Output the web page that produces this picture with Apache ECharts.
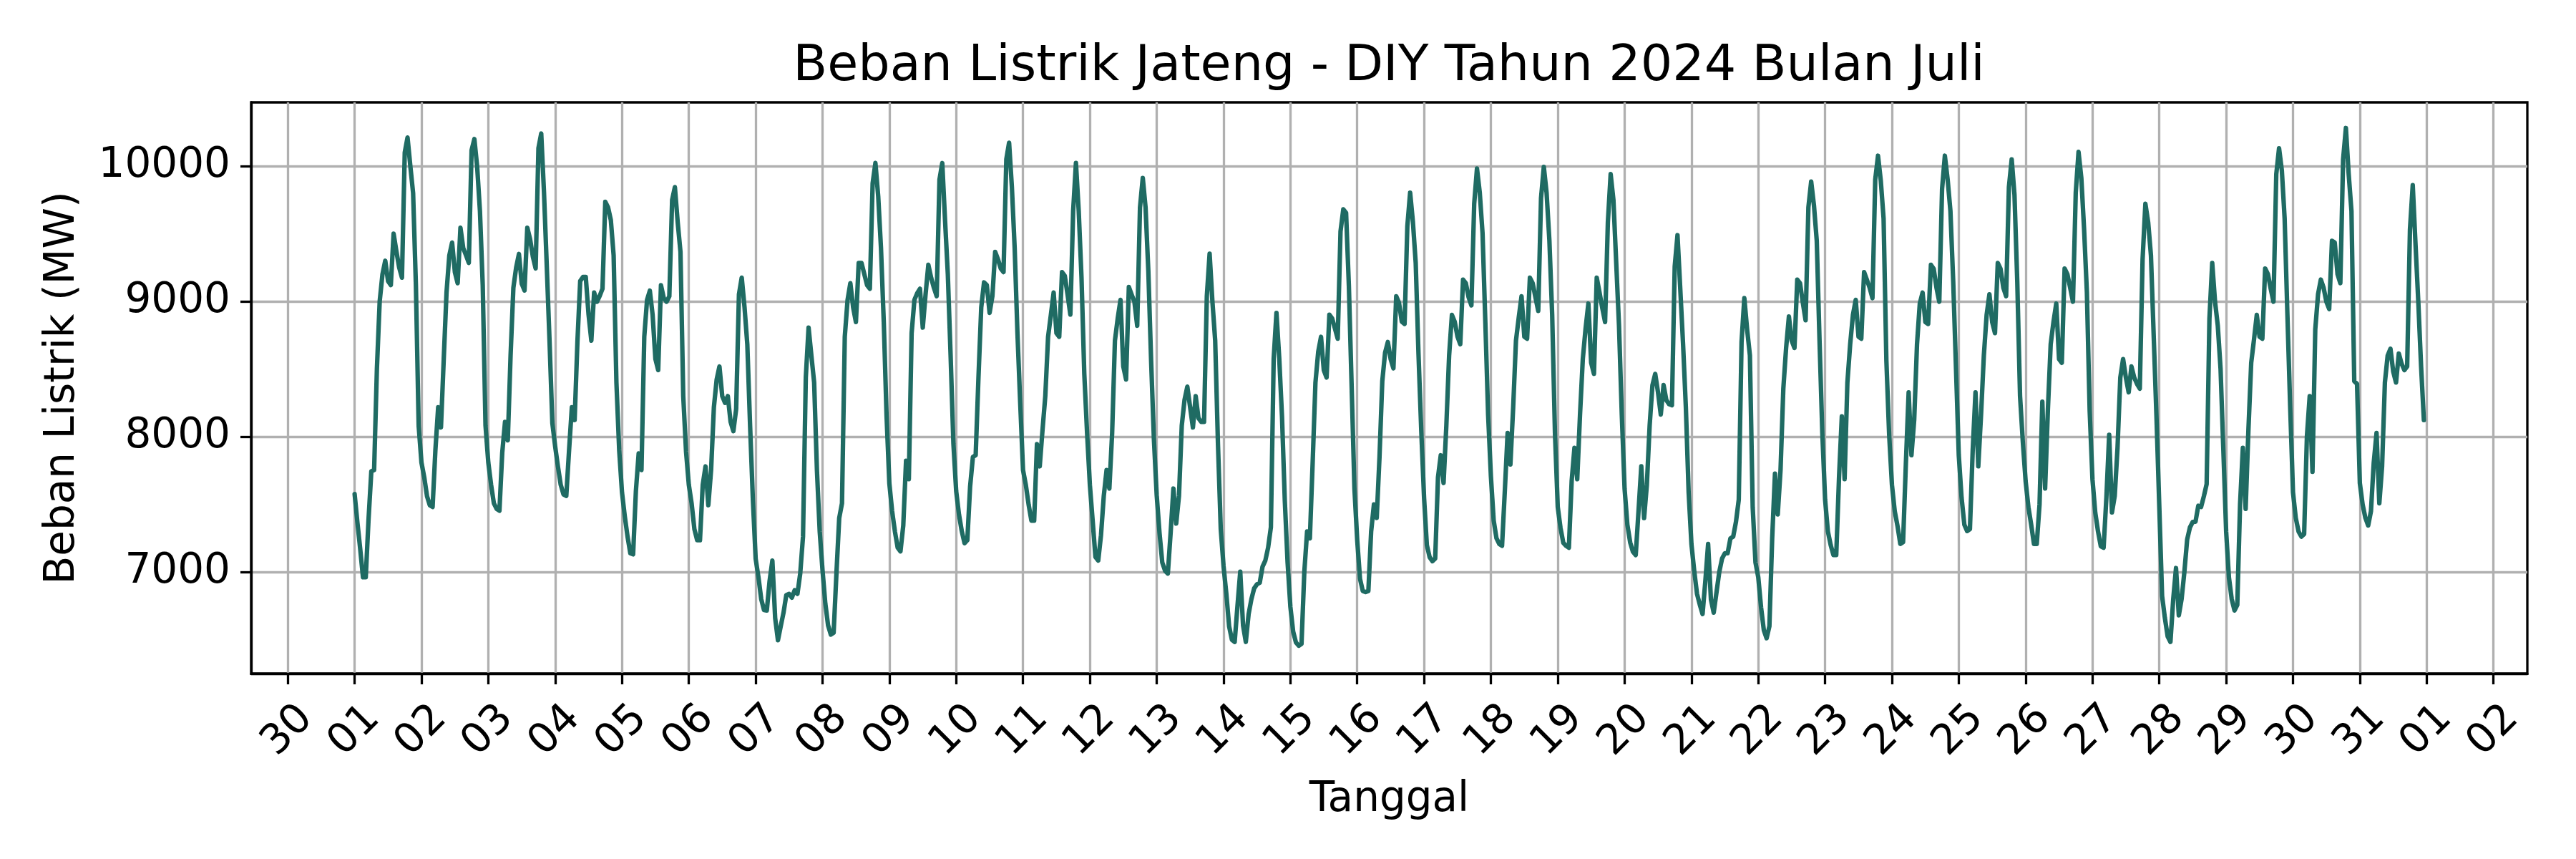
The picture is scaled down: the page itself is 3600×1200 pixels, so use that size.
<!DOCTYPE html>
<html>
<head>
<meta charset="utf-8">
<title>Beban Listrik Jateng - DIY Juli 2024</title>
<script src="https://cdn.jsdelivr.net/npm/echarts@6/dist/echarts.min.js"></script>
<style>
  html, body { margin: 0; padding: 0; background: #fff; }
  #chart { width: 3600px; height: 1200px; }
</style>
</head>
<body>
<div id="chart"></div>
<script>
// beban per jam (MW), jam 00..23, satu array per hari
var jul01 = [7576, 7366, 7172, 6962, 6962, 7390, 7745, 7754, 8500, 9000, 9200, 9300, 9150, 9120, 9500, 9370, 9250, 9175, 10100, 10210, 10000, 9800, 9120, 8080];
var jul02 = [7809, 7700, 7560, 7494, 7481, 7900, 8218, 8068, 8574, 9066, 9339, 9434, 9216, 9134, 9544, 9393, 9340, 9284, 10117, 10199, 9994, 9667, 9120, 8082];
var jul03 = [7809, 7645, 7508, 7467, 7453, 7880, 8109, 7973, 8600, 9100, 9250, 9350, 9130, 9080, 9544, 9460, 9330, 9243, 10131, 10240, 9803, 9257, 8700, 8100];
var jul04 = [7930, 7780, 7645, 7574, 7563, 7900, 8218, 8123, 8700, 9150, 9180, 9180, 8902, 8710, 9065, 8997, 9040, 9093, 9735, 9694, 9600, 9340, 8400, 7900];
var jul05 = [7590, 7413, 7262, 7139, 7131, 7600, 7877, 7754, 8738, 9011, 9079, 8900, 8574, 8492, 9120, 9024, 8997, 9038, 9748, 9844, 9585, 9366, 8300, 7891];
var jul06 = [7645, 7508, 7317, 7235, 7235, 7645, 7781, 7494, 7754, 8218, 8423, 8519, 8300, 8250, 8300, 8109, 8041, 8205, 9052, 9175, 8956, 8683, 8082, 7535];
var jul07 = [7098, 6962, 6800, 6720, 6716, 6934, 7085, 6661, 6497, 6600, 6700, 6830, 6839, 6811, 6866, 6839, 6989, 7262, 8437, 8806, 8600, 8400, 7754, 7300];
var jul08 = [7016, 6770, 6607, 6538, 6552, 6989, 7399, 7508, 8738, 9011, 9134, 8956, 8847, 9284, 9284, 9202, 9120, 9093, 9871, 10022, 9776, 9393, 8847, 8156];
var jul09 = [7656, 7450, 7300, 7180, 7153, 7344, 7822, 7686, 8765, 9011, 9060, 9093, 8806, 9050, 9270, 9175, 9100, 9038, 9899, 10022, 9600, 9200, 8600, 7950];
var jul10 = [7598, 7426, 7303, 7213, 7235, 7631, 7850, 7863, 8437, 8956, 9140, 9120, 8915, 9038, 9366, 9311, 9243, 9216, 10049, 10172, 9844, 9393, 8765, 8246];
var jul11 = [7754, 7645, 7500, 7380, 7380, 7945, 7781, 8050, 8300, 8738, 8900, 9065, 8765, 8738, 9216, 9188, 9050, 8902, 9667, 10022, 9667, 9175, 8464, 8027];
var jul12 = [7645, 7380, 7112, 7085, 7273, 7563, 7754, 7617, 8027, 8710, 8874, 9011, 8519, 8423, 9106, 9050, 8997, 8820, 9694, 9912, 9694, 9221, 8560, 7980];
var jul13 = [7568, 7290, 7071, 7010, 6989, 7290, 7617, 7358, 7563, 8082, 8273, 8370, 8218, 8068, 8300, 8137, 8109, 8109, 9038, 9352, 9000, 8710, 7945, 7317];
var jul14 = [7044, 6840, 6600, 6500, 6484, 6750, 7003, 6607, 6484, 6689, 6800, 6880, 6910, 6921, 7040, 7085, 7180, 7331, 8574, 8915, 8580, 8145, 7527, 7071];
var jul15 = [6743, 6560, 6480, 6456, 6470, 7000, 7300, 7249, 7809, 8400, 8628, 8738, 8492, 8437, 8902, 8874, 8800, 8724, 9516, 9680, 9653, 9115, 8369, 7617];
var jul16 = [7235, 6950, 6860, 6852, 6860, 7300, 7500, 7400, 7850, 8410, 8620, 8700, 8574, 8505, 9038, 8990, 8850, 8833, 9557, 9803, 9585, 9284, 8612, 8041];
var jul17 = [7549, 7200, 7110, 7080, 7100, 7700, 7863, 7658, 8082, 8601, 8900, 8850, 8740, 8683, 9161, 9134, 9030, 8970, 9721, 9981, 9803, 9503, 8847, 8164];
var jul18 = [7708, 7380, 7250, 7208, 7194, 7600, 8027, 7795, 8218, 8710, 8880, 9038, 8738, 8724, 9175, 9134, 9030, 8929, 9762, 9994, 9800, 9450, 8902, 8027];
var jul19 = [7481, 7325, 7216, 7194, 7180, 7672, 7918, 7686, 8164, 8574, 8800, 8984, 8546, 8464, 9175, 9065, 8950, 8847, 9585, 9940, 9748, 9284, 8820, 8164];
var jul20 = [7617, 7350, 7220, 7150, 7126, 7450, 7781, 7399, 7645, 8082, 8380, 8464, 8328, 8164, 8382, 8270, 8240, 8232, 9257, 9489, 9090, 8683, 8218, 7590];
var jul21 = [7208, 7010, 6840, 6760, 6690, 6934, 7208, 6798, 6700, 6850, 7000, 7100, 7139, 7139, 7249, 7262, 7372, 7535, 8700, 9024, 8792, 8601, 7481, 7071];
var jul22 = [6962, 6740, 6570, 6511, 6600, 7250, 7727, 7426, 7754, 8355, 8656, 8888, 8710, 8656, 9161, 9134, 8990, 8860, 9694, 9885, 9708, 9448, 8710, 8027];
var jul23 = [7535, 7300, 7200, 7126, 7126, 7700, 8150, 7686, 8400, 8683, 8900, 9011, 8738, 8724, 9216, 9160, 9100, 9024, 9899, 10076, 9890, 9612, 8563, 8014];
var jul24 = [7645, 7450, 7340, 7208, 7221, 7800, 8328, 7863, 8126, 8683, 8984, 9065, 8847, 8833, 9270, 9240, 9100, 8997, 9830, 10076, 9900, 9667, 9147, 8505];
var jul25 = [7863, 7550, 7350, 7303, 7317, 7900, 8328, 7781, 8164, 8600, 8900, 9052, 8847, 8765, 9284, 9240, 9100, 9038, 9844, 10049, 9787, 9147, 8300, 7960];
var jul26 = [7672, 7480, 7350, 7208, 7208, 7500, 8259, 7617, 8202, 8683, 8847, 8984, 8574, 8546, 9243, 9200, 9100, 8997, 9803, 10104, 9912, 9530, 9065, 8191];
var jul27 = [7686, 7440, 7300, 7190, 7180, 7550, 8014, 7440, 7563, 7918, 8437, 8574, 8437, 8328, 8519, 8437, 8390, 8355, 9311, 9721, 9585, 9339, 8738, 8137];
var jul28 = [7481, 6825, 6661, 6525, 6484, 6800, 7030, 6680, 6800, 7000, 7240, 7330, 7370, 7372, 7490, 7481, 7560, 7650, 8874, 9284, 9000, 8820, 8500, 7900];
var jul29 = [7300, 6960, 6800, 6716, 6757, 7500, 7918, 7467, 8050, 8546, 8718, 8900, 8738, 8724, 9243, 9202, 9093, 8997, 9940, 10131, 9967, 9612, 8900, 8218];
var jul30 = [7590, 7400, 7300, 7262, 7280, 8000, 8300, 7740, 8792, 9052, 9161, 9100, 8997, 8943, 9448, 9434, 9200, 9134, 10049, 10281, 9940, 9667, 8410, 8390];
var jul31 = [7658, 7500, 7400, 7344, 7450, 7809, 8027, 7508, 7781, 8400, 8600, 8650, 8480, 8400, 8615, 8540, 8492, 8519, 9530, 9858, 9420, 8995, 8519, 8123];

var bulanJuli = [jul01, jul02, jul03, jul04, jul05, jul06, jul07, jul08, jul09, jul10,
  jul11, jul12, jul13, jul14, jul15, jul16, jul17, jul18, jul19, jul20,
  jul21, jul22, jul23, jul24, jul25, jul26, jul27, jul28, jul29, jul30, jul31];

// label sumbu x: 30 Juni .. 2 Agustus
var labelTanggal = ['30', '01', '02', '03', '04', '05', '06', '07', '08', '09', '10',
  '11', '12', '13', '14', '15', '16', '17', '18', '19', '20', '21', '22', '23', '24',
  '25', '26', '27', '28', '29', '30', '31', '01', '02'];
var tickBeban = [7000, 8000, 9000, 10000];

function bebanListrik(cible) {
  var myChart = echarts.init(document.getElementById(cible));
  var font = 'DejaVu Sans';

  // x = jam sejak 1 Juli 00:00
  var data = [];
  bulanJuli.forEach(function (hari, d) {
    hari.forEach(function (v, h) {
      data.push([d * 24 + h, v]);
    });
  });
  var jamAkhir = data.length - 1;
  var margin = jamAkhir * 0.05;
  var tickJam = labelTanggal.map(function (l, i) { return (i - 1) * 24; });

  var option = {
    animation: false,
    backgroundColor: '#fff',
    title: {
      text: 'Beban Listrik Jateng - DIY Tahun 2024 Bulan Juli',
      left: 1941,
      top: 59,
      padding: 0,
      textAlign: 'center',
      textStyle: { fontFamily: font, fontSize: 70, fontWeight: 'normal', color: '#000' }
    },
    grid: {
      left: 351, right: 68, top: 143, bottom: 259,
      show: true, borderColor: '#000', borderWidth: 3.3
    },
    xAxis: {
      type: 'value',
      min: -margin,
      max: jamAkhir + margin,
      name: 'Tanggal',
      nameLocation: 'middle',
      nameGap: 177,
      nameTextStyle: { fontFamily: font, fontSize: 58, color: '#000', verticalAlign: 'middle' },
      axisLine: { show: true, onZero: false, lineStyle: { color: '#000', width: 3.3 } },
      axisTick: { show: true, length: 15, customValues: tickJam, lineStyle: { color: '#000', width: 3.3 } },
      axisLabel: {
        customValues: tickJam,
        rotate: 45,
        align: 'center',
        verticalAlign: 'middle',
        margin: 80,
        fontFamily: font,
        fontSize: 58,
        color: '#000',
        formatter: function (v) { return labelTanggal[Math.round(v / 24) + 1]; }
      },
      splitLine: { show: true, lineStyle: { color: '#b0b0b0', width: 3.3 } }
    },
    yAxis: {
      type: 'value',
      min: 6250,
      max: 10470,
      name: 'Beban Listrik (MW)',
      nameLocation: 'middle',
      nameRotate: 90,
      nameGap: 263,
      nameTextStyle: { fontFamily: font, fontSize: 58, color: '#000', verticalAlign: 'middle' },
      axisLine: { show: true, onZero: false, lineStyle: { color: '#000', width: 3.3 } },
      axisTick: { show: true, length: 15, customValues: tickBeban, lineStyle: { color: '#000', width: 3.3 } },
      axisLabel: {
        customValues: tickBeban,
        margin: 29,
        fontFamily: font,
        fontSize: 58,
        color: '#000',
        formatter: function (v) { return String(v); }
      },
      splitLine: { show: true, lineStyle: { color: '#b0b0b0', width: 3.3 } }
    },
    series: [{
      type: 'line',
      data: data,
      showSymbol: false,
      symbol: 'none',
      silent: true,
      lineStyle: { color: '#1f6b63', width: 6.25, join: 'round', cap: 'round' },
      itemStyle: { color: '#1f6b63' }
    }]
  };
  myChart.setOption(option);
}

bebanListrik('chart');
</script>
</body>
</html>
